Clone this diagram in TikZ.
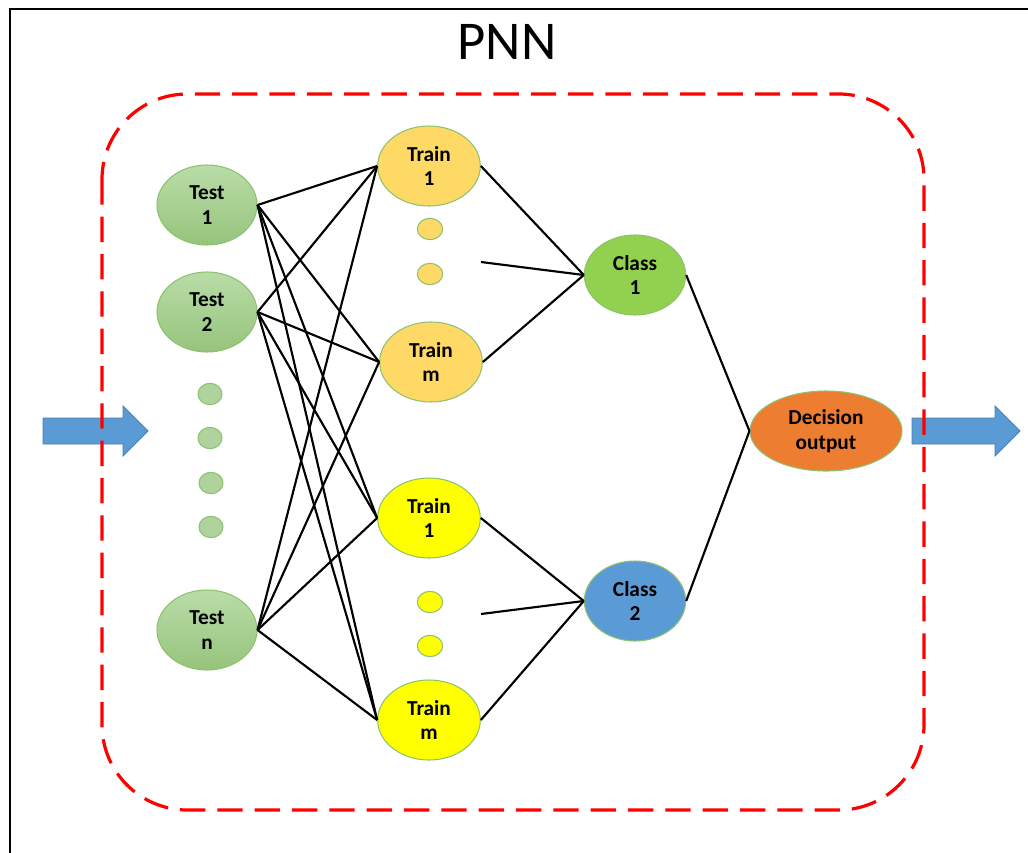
\documentclass[tikz,border=0pt]{standalone}
\usepackage{fontspec}
\setmainfont{Carlito}
\usetikzlibrary{shapes.geometric}

\definecolor{testfillA}{HTML}{B9DCA8}
\definecolor{testfillB}{HTML}{96C47C}
\definecolor{greenedge}{HTML}{8DC26F}
\definecolor{goldfill}{HTML}{FFD966}
\definecolor{yellowfill}{HTML}{FFFF00}
\definecolor{class1fill}{HTML}{92D050}
\definecolor{class2fill}{HTML}{5B9BD5}
\definecolor{decisionfill}{HTML}{ED7D31}
\definecolor{arrowfill}{HTML}{5B9BD5}
\definecolor{arrowedge}{HTML}{4A7FB5}
\definecolor{dashred}{HTML}{FF0000}

\tikzset{
  unit/.style={ellipse, draw=greenedge, line width=0.8pt, inner sep=0pt,
    font=\bfseries\fontsize{16}{18.5}\selectfont, align=center},
  testnode/.style={unit, minimum width=75pt, minimum height=60pt,
    top color=testfillA, bottom color=testfillB},
  testdot/.style={ellipse, draw=greenedge, line width=0.8pt, inner sep=0pt,
    minimum width=18pt, minimum height=16pt, fill=testfillB!75!white},
  trainnode/.style={unit, minimum width=77pt, minimum height=60pt},
  traindot/.style={ellipse, draw=greenedge, line width=0.8pt, inner sep=0pt,
    minimum width=19pt, minimum height=16pt},
  classnode/.style={unit, minimum width=76pt, minimum height=60pt},
  link/.style={black, line width=1.6pt},
  bigarrow/.style={fill=arrowfill, draw=arrowedge, line width=0.6pt},
}

\begin{document}
\begin{tikzpicture}[x=0.75pt, y=-0.75pt]
\useasboundingbox (0,0) rectangle (1028,853);

% frame (top and left edges only)
\draw[black, line width=1.6pt] (10,853) -- (10,9) -- (1028,9);

% title
\node[font=\fontsize{41}{48}\selectfont, anchor=base] (title) at (507,59) {PNN};

% input / output arrows
\draw[bigarrow] (43,418) -- (123,418) -- (123,406) -- (148,431) -- (123,456)
  -- (123,444) -- (43,444) -- cycle;
\draw[bigarrow] (912,418) -- (995,418) -- (995,406) -- (1020,431) -- (995,456)
  -- (995,444) -- (912,444) -- cycle;

% network boundary
\draw[dashred, line width=2.4pt, dash pattern=on 19pt off 9pt, rounded corners=64pt]
  (102,94) rectangle (924,810);

% test layer
\node[testnode] (t1) at (207,205) {Test\\1};
\node[testnode] (t2) at (207,312) {Test\\2};
\node[testnode] (tn) at (207,630) {Test\\n};
\node[testdot] (td1) at (210,394) {};
\node[testdot] (td2) at (210,438) {};
\node[testdot] (td3) at (211,483) {};
\node[testdot] (td4) at (211,527) {};

% training layer, class 1
\node[trainnode, fill=goldfill] (a1) at (429,166) {Train\\1};
\node[trainnode, fill=goldfill] (am) at (431,362) {Train\\m};
\node[traindot, fill=goldfill] (ad1) at (430,229) {};
\node[traindot, fill=goldfill] (ad2) at (430,274) {};

% training layer, class 2
\node[trainnode, fill=yellowfill] (b1) at (429,518) {Train\\1};
\node[trainnode, fill=yellowfill] (bm) at (429,720) {Train\\m};
\node[traindot, fill=yellowfill] (bd1) at (430,602) {};
\node[traindot, fill=yellowfill] (bd2) at (430,646) {};

% summation layer
\node[classnode, fill=class1fill] (c1) at (635,275) {Class\\1};
\node[classnode, fill=class2fill] (c2) at (635,601) {Class\\2};

% output layer
\node[unit, fill=decisionfill, minimum width=114pt, minimum height=60pt] (dec) at (826,431) {Decision\\output};

% free ends of the links from the elided pattern units
\coordinate (amid) at (481,262);
\coordinate (bmid) at (481,614);

% test -> pattern links
\foreach \s in {t1,t2,tn}
  \foreach \t in {a1,am,b1,bm}
    \draw[link] (\s.east) -- (\t.west);

% pattern -> class links
\draw[link] (a1.east) -- (c1.west);
\draw[link] (amid) -- (c1.west);
\draw[link] (am.east) -- (c1.west);
\draw[link] (b1.east) -- (c2.west);
\draw[link] (bmid) -- (c2.west);
\draw[link] (bm.east) -- (c2.west);

% class -> decision links
\draw[link] (c1.east) -- (dec.west);
\draw[link] (c2.east) -- (dec.west);
\end{tikzpicture}
\end{document}
